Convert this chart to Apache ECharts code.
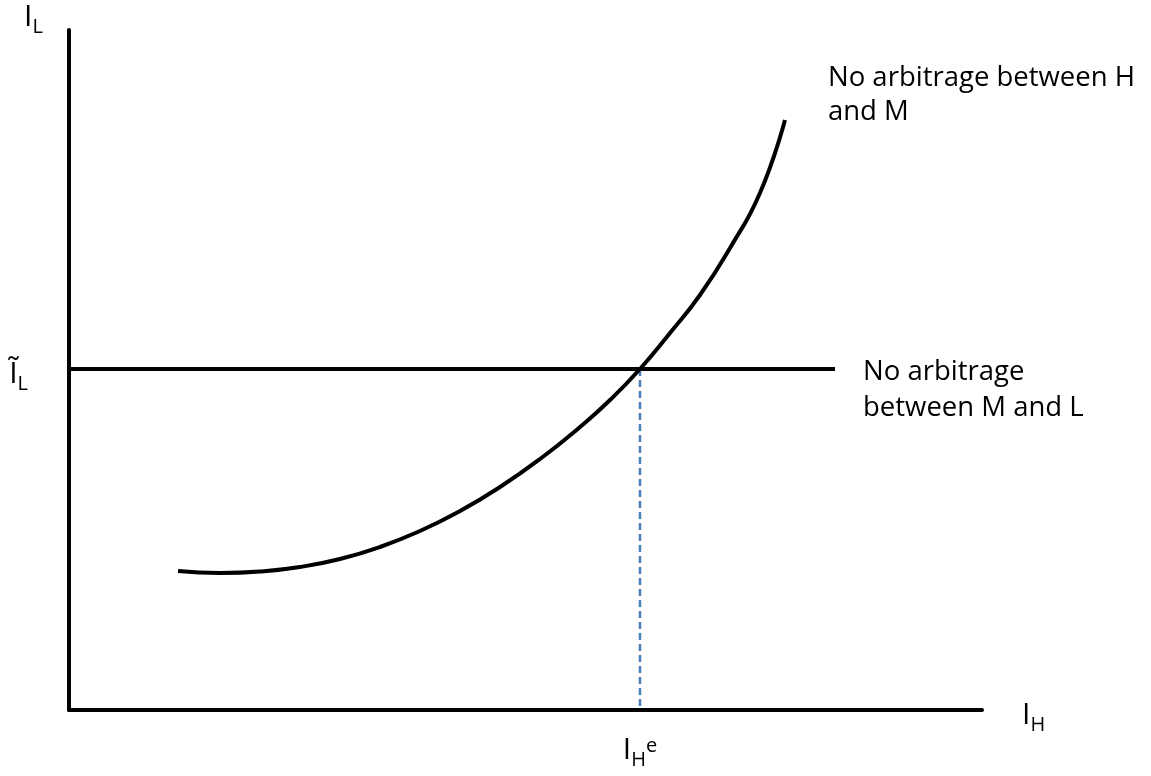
<!DOCTYPE html>
<html>
<head>
<meta charset="utf-8">
<script src="https://cdn.jsdelivr.net/npm/echarts@6/dist/echarts.min.js"></script>
<style>
html,body{margin:0;padding:0;background:#fff;}
#c{width:1151px;height:776px;}
</style>
</head>
<body>
<div id="c"></div>
<script>
// Data (abstract units: both axes 0..100)
const curveX = [11.94, 16.54, 20.92, 25.30, 29.68, 34.06, 38.44, 42.83, 47.21, 51.59, 55.97, 59.26, 62.54, 65.83, 69.11, 72.40, 75.68, 78.42];
const curveY = [20.44, 20.15, 20.37, 21.03, 22.21, 23.97, 26.32, 29.26, 32.79, 36.91, 41.62, 45.59, 50.15, 55.44, 61.03, 67.94, 76.03, 86.76];
const hLineX = [0, 83.9];
const hLineLevel = 50.15;           // Ĩ_L
const equilibriumX = 62.54;         // I_H^e
const curveLabel = 'No arbitrage between H\nand M';
const hLineLabel = 'No arbitrage\nbetween M and L';

const FONT = 'Open Sans';
const subRich = {
  i: {fontFamily: FONT, fontSize: 30, color: '#000'},
  s: {fontFamily: FONT, fontSize: 20, color: '#000', padding: [20, 0, 0, 0]},
  p: {fontFamily: FONT, fontSize: 20, color: '#000', padding: [0, 0, 8, 0]}
};

const chart = echarts.init(document.getElementById('c'));
chart.setOption({
  backgroundColor: '#fff',
  animation: false,
  grid: {left: 69, right: 169, top: 30, bottom: 66},
  xAxis: {
    type: 'value', min: 0, max: 100,
    axisLine: {lineStyle: {color: '#000', width: 4}},
    axisTick: {show: false},
    splitLine: {show: false},
    axisLabel: {
      customValues: [equilibriumX],
      margin: 20,
      formatter: () => '{i|I}{s|H}{p|e}',
      rich: subRich
    },
    name: '{i|I}{s|H}',
    nameLocation: 'end',
    nameGap: 40,
    nameTextStyle: {rich: subRich, padding: [10, 0, 0, 0], align: 'left', verticalAlign: 'middle'}
  },
  yAxis: {
    type: 'value', min: 0, max: 100,
    axisLine: {lineStyle: {color: '#000', width: 4}},
    axisTick: {show: false},
    splitLine: {show: false},
    axisLabel: {
      customValues: [hLineLevel],
      margin: 41,
      padding: [10, 0, 0, 0],
      formatter: () => '{i|Ĩ}{s|L}',
      rich: subRich
    }
  },
  graphic: [{
    type: 'text', left: 24, top: 2,
    style: {text: '{i|I}{s|L}', rich: subRich}
  }],
  series: [
    {
      type: 'line',
      data: curveX.map((x, i) => [x, curveY[i]]),
      smooth: 0.5,
      showSymbol: false,
      lineStyle: {color: '#000', width: 4},
      endLabel: {
        show: true,
        formatter: () => curveLabel,
        fontFamily: FONT, fontSize: 27.5, lineHeight: 34, color: '#000',
        align: 'left', verticalAlign: 'middle',
        offset: [35, -25]
      },
      z: 3
    },
    {
      type: 'line',
      data: hLineX.map(x => [x, hLineLevel]),
      showSymbol: false,
      lineStyle: {color: '#000', width: 4},
      endLabel: {
        show: true,
        formatter: () => hLineLabel,
        fontFamily: FONT, fontSize: 27.5, lineHeight: 36, color: '#000',
        align: 'left', verticalAlign: 'middle',
        offset: [20, 21]
      },
      z: 2
    },
    {
      type: 'line',
      data: [[equilibriumX, hLineLevel], [equilibriumX, 0]],
      showSymbol: false,
      lineStyle: {color: '#4a7ebb', width: 2.5, type: [7, 4]},
      z: 1
    }
  ]
});
</script>
</body>
</html>
